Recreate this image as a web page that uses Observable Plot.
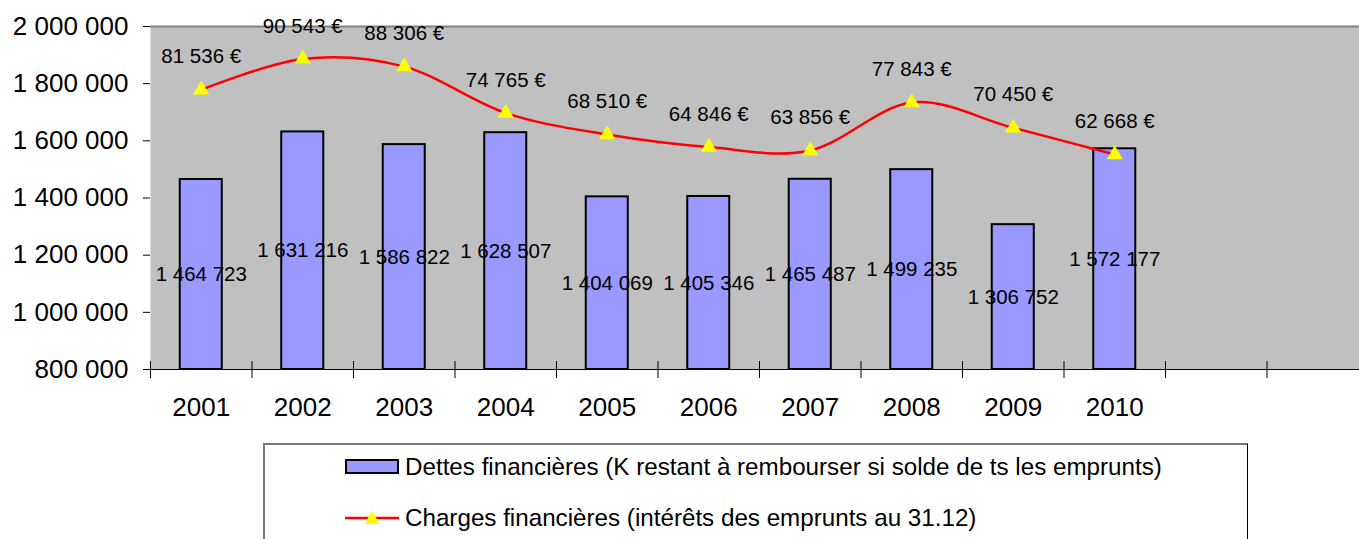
<!DOCTYPE html>
<html><head><meta charset="utf-8">
<script src="https://cdn.jsdelivr.net/npm/d3@7"></script>
<script src="https://cdn.jsdelivr.net/npm/@observablehq/plot@0.6"></script>
<style>
html,body{margin:0;padding:0;background:#fff;overflow:hidden;width:1359px;height:539px}
#wrap{position:relative;width:1359px;height:539px;overflow:hidden;font-family:"Liberation Sans",Arial,sans-serif}
#chart svg{display:block;max-width:none !important}
#legend{position:absolute;left:263px;top:443px;width:985px;height:130px;border:1px solid #000;border-top:2px solid #7a7a7a;border-left:2px solid #7a7a7a;box-sizing:border-box;background:#fff}
.item{position:absolute;left:80px;display:flex;align-items:center;font-size:24.2px;color:#000;white-space:nowrap;transform:translateY(-50%)}
.item svg{display:block;margin-right:5px}
</style></head>
<body><div id="wrap"><div id="chart"></div><div id="legend"></div></div>
<script>
// ---- data ----
const years = ["2001","2002","2003","2004","2005","2006","2007","2008","2009","2010"];
const emptySlots = ["_a","_b"];
const dettes = [1464723, 1631216, 1586822, 1628507, 1404069, 1405346, 1465487, 1499235, 1306752, 1572177];
const charges = [81536, 90543, 88306, 74765, 68510, 64846, 63856, 77843, 70450, 62668];
const yTicks = [800000, 1000000, 1200000, 1400000, 1600000, 1800000, 2000000];
const yDomain = [800000, 2000000];
const y2Domain = [0, 100000]; // hidden secondary axis for charges
const legendLabels = [
  "Dettes financières (K restant à rembourser si solde de ts les emprunts)",
  "Charges financières (intérêts des emprunts au 31.12)"
];

// ---- helpers ----
const slots = [...years, ...emptySlots];
const fr = d3.formatLocale({decimal: ",", thousands: "\u00a0", grouping: [3], currency: ["", "\u00a0€"]});
const fmtNum = fr.format(",");
const fmtEur = fr.format("$,");
const toPrimary = v => yDomain[0] + (v - y2Domain[0]) * (yDomain[1] - yDomain[0]) / (y2Domain[1] - y2Domain[0]);
const table = years.map((year, i) => ({year, dettes: dettes[i], charges: charges[i]}));

const W = 1370, H = 440, mL = 150, mR = 2, mT = 26, mB = 71;
const step = (W - mL - mR) / slots.length;
const font = '"Liberation Sans", Arial, sans-serif';

const chart = Plot.plot({
  width: W, height: H,
  marginLeft: mL, marginRight: mR, marginTop: mT, marginBottom: mB,
  style: {fontFamily: font, background: "transparent", color: "#000", overflow: "visible", maxWidth: "none"},
  x: {type: "band", domain: slots, paddingInner: 0.586, paddingOuter: 0.293, align: 0.5, round: false},
  y: {domain: yDomain},
  marks: [
    Plot.frame({fill: "#c0c0c0", stroke: null}),
    Plot.ruleY([yDomain[1]], {stroke: "#808080", strokeWidth: 2}),
    Plot.barY(table, {x: "year", y1: yDomain[0], y2: "dettes", fill: "#9999ff", stroke: "#000", strokeWidth: 2}),
    Plot.ruleY([yDomain[0]], {stroke: "#000", strokeWidth: 1.2}),
    Plot.ruleX(slots, {x: d => d, y1: yDomain[0], y2: yDomain[0], insetTop: -8, insetBottom: -9, dx: -step / 2, stroke: "#000", strokeWidth: 1}),
    Plot.axisY({ticks: yTicks, tickFormat: fmtNum, tickSize: 7, tickPadding: 15, fontSize: 26, stroke: "#000", strokeWidth: 1, line: true, label: null}),
    Plot.axisX({tickSize: 0, tickPadding: 28, fontSize: 26, tickFormat: d => years.includes(d) ? d : "", label: null}),
    Plot.line(table, {x: "year", y: d => toPrimary(d.charges), curve: "cardinal", stroke: "#ff0000", strokeWidth: 2.5}),
    Plot.dot(table, {x: "year", y: d => toPrimary(d.charges), symbol: "triangle", r: 6, fill: "#ffff00", stroke: null}),
    Plot.text(table, {x: "year", y: d => toPrimary(d.charges), text: d => fmtEur(d.charges), dy: -33, fontSize: 20.5, fill: "#000"}),
    Plot.text(table, {x: "year", y: d => (d.dettes + yDomain[0]) / 2, text: d => fmtNum(d.dettes), fontSize: 20.5, fill: "#000"})
  ]
});
document.getElementById("chart").appendChild(chart);

// ---- legend ----
const legend = document.getElementById("legend");
const item1 = document.createElement("div");
item1.className = "item"; item1.style.top = "22px";
item1.innerHTML = '<svg width="55" height="16"><rect x="1" y="1" width="52" height="13" fill="#9999ff" stroke="#000" stroke-width="2"/></svg><span></span>';
item1.querySelector("span").textContent = legendLabels[0];
const item2 = document.createElement("div");
item2.className = "item"; item2.style.top = "73px";
item2.innerHTML = '<svg width="55" height="20"><line x1="0" x2="54" y1="10" y2="10" stroke="#ff0000" stroke-width="2.5"/><polygon points="27,2.5 34.5,16 19.5,16" fill="#ffff00"/></svg><span></span>';
item2.querySelector("span").textContent = legendLabels[1];
legend.appendChild(item1); legend.appendChild(item2);
</script>
</body></html>
